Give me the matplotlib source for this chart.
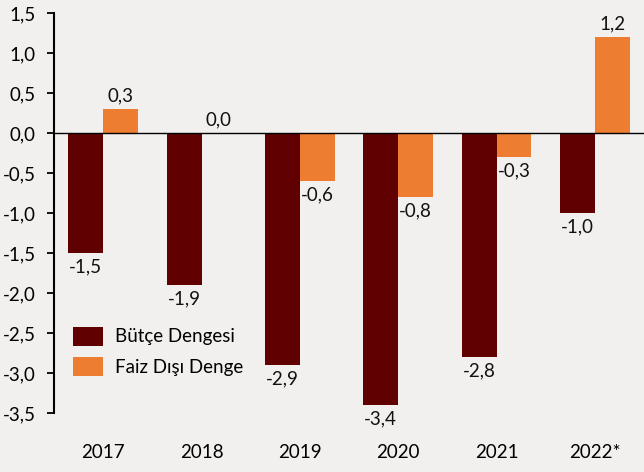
import matplotlib
matplotlib.use("Agg")
from matplotlib import pyplot as plt
import numpy as np

years = ["2017", "2018", "2019", "2020", "2021", "2022*"]
butce = [-1.5, -1.9, -2.9, -3.4, -2.8, -1.0]
faiz_disi = [0.3, 0.0, -0.6, -0.8, -0.3, 1.2]
yticks = [1.5, 1.0, 0.5, 0.0, -0.5, -1.0, -1.5, -2.0, -2.5, -3.0, -3.5]

bg = "#F2F0EE"
dark = "#600000"
orange = "#ED7D31"
fs = 13.5

plt.rcParams["font.family"] = ["Lato", "DejaVu Sans"]

fig = plt.figure(figsize=(6.44, 4.72), dpi=100, facecolor=bg)
ax = fig.add_axes([54 / 644, 1 - 413 / 472, 590 / 644, 400 / 472], facecolor=bg)

x = np.arange(len(years))
w = 0.355
b1 = ax.bar(x - w / 2, butce, w, color=dark, label="Bütçe Dengesi", zorder=2)
b2 = ax.bar(x + w / 2, faiz_disi, w, color=orange, label="Faiz Dışı Denge", zorder=2)


def fmt(v):
    return ("%.1f" % v).replace(".", ",")


for bars, vals in ((b1, butce), (b2, faiz_disi)):
    for r, v in zip(bars, vals):
        cx = r.get_x() + r.get_width() / 2
        if v >= 0:
            ax.annotate(fmt(v), (cx, v), xytext=(0, 3), textcoords="offset points",
                        ha="center", va="bottom", fontsize=fs, color="#111111")
        else:
            ax.annotate(fmt(v), (cx, v), xytext=(0, -4), textcoords="offset points",
                        ha="center", va="top", fontsize=fs, color="#111111")

ax.axhline(0, color="black", lw=1, zorder=3)
ax.set_xlim(-0.5, len(years) - 0.5)
ax.set_ylim(-3.5, 1.5)
ax.set_yticks(yticks)
ax.set_yticklabels([fmt(t) for t in yticks])
ax.set_xticks(x)
ax.set_xticklabels(years)
ax.tick_params(axis="x", length=0, pad=22, labelsize=fs)
ax.tick_params(axis="y", length=5, width=1.3, labelsize=fs, pad=8)
for s in ("top", "right", "bottom"):
    ax.spines[s].set_visible(False)
ax.spines["left"].set_linewidth(1.5)

ax.legend(loc="upper left", bbox_to_anchor=(0.02, 0.235), frameon=False,
          fontsize=fs, handlelength=1.6, handleheight=1.2, labelspacing=0.6,
          handletextpad=0.6, borderaxespad=0)

fig.savefig("out.png", dpi=100, facecolor=bg)
